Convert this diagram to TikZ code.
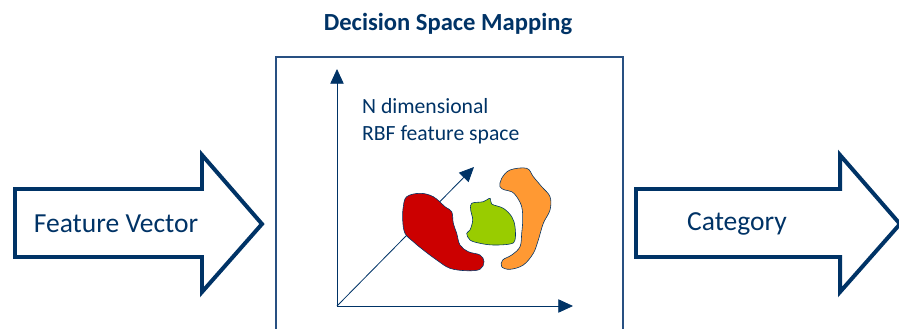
\documentclass[tikz,border=0pt]{standalone}
\usepackage{fontspec}
\setmainfont{Carlito}
\usepackage{xcolor}
\usetikzlibrary{arrows.meta}

\definecolor{navy}{RGB}{0,51,102}
\definecolor{frameblue}{RGB}{40,80,130}
\definecolor{blobred}{RGB}{204,0,0}
\definecolor{blobgreen}{RGB}{153,204,0}
\definecolor{bloborange}{RGB}{255,153,51}

\tikzset{
  bigarrow/.style={draw=navy,line width=3.4pt,fill=white,line join=miter},
  axis/.style={draw=navy,line width=0.7pt,-{Triangle[width=4mm,length=4.4mm]}},
  blob/.style={draw=navy,line width=0.5pt},
  label/.style={text=navy,font=\fontsize{23.5}{28}\selectfont}
}

\begin{document}
\begin{tikzpicture}[x=0.3mm,y=-0.3mm]
    \useasboundingbox (0,0) rectangle (899,328);
    \clip (0,0) rectangle (899,328);
    % mapping box and its title
    \draw[frameblue,line width=1pt] (276,340) -- (276,57) -- (623,57) -- (623,340);
    \node[text=navy,font=\fontsize{21}{25}\selectfont\bfseries] (title) at (448,24) {Decision Space Mapping};
    % input arrow
    \draw[bigarrow] (15,189) -- (202,189) -- (202,155) -- (262,224) -- (202,292)
        -- (202,257) -- (15,257) -- cycle;
    \node[label] (feat) at (116,224) {Feature Vector};
    % output arrow
    \draw[bigarrow] (636,189) -- (840,189) -- (840,155) -- (900,224) -- (840,292)
        -- (840,257) -- (636,257) -- cycle;
    \node[label] (cat) at (737,224) {Category};
    % axes
    \coordinate (origin) at (337,306);
    \coordinate (yend) at (337,69);
    \coordinate (xend) at (573,306);
    \coordinate (zend) at (474,167);
    \draw[axis] (origin) -- (yend);
    \draw[axis] (origin) -- (xend);
    \draw[axis] (origin) -- (zend);
    \node[label,font=\fontsize{18.5}{23}\selectfont,align=left,anchor=north west] (space) at (358,94)
        {N dimensional\\RBF feature space};
    % class regions
    \fill[blob,fill=blobred] plot[smooth cycle,tension=0.6] coordinates {
        (406.7,196.7) (420,193.3) (433.3,196.7) (445,206.7) (451.7,211.7)
        (453.3,223.3) (456.7,233.3) (460,245) (468.3,251.7) (480,255)
        (484,261.7) (480,269.3) (466.7,270.7) (450,268.3) (436.7,260)
        (423.3,250) (413.3,241.7) (405,233.3) (402.7,220) (403.3,206.7)};
    \fill[blob,fill=blobgreen] plot[smooth cycle,tension=0.6] coordinates {
        (471.7,203.3) (483.3,201.7) (490,198.3) (491.7,204) (503.3,208.3)
        (511.7,216.7) (515,226.7) (515,240) (510,244) (493.3,245)
        (480,243.3) (470,240) (466.7,233.3) (470,230) (472.7,220) (470.7,210)};
    \fill[blob,fill=bloborange] plot[smooth cycle,tension=0.6] coordinates {
        (510,170) (526.7,168.3) (533.3,176.7) (541.7,186.7) (550,196.7)
        (550,210) (543.3,223.3) (538.3,240) (533.3,253.3) (523.3,265)
        (510,269.3) (501.7,266.7) (502.7,260) (511.7,255) (520,246.7)
        (521.7,233.3) (522.7,220) (521.7,206.7) (516.7,196.7) (511.7,191.7)
        (505,190) (500,186.7) (501.7,178.3)};
\end{tikzpicture}
\end{document}
